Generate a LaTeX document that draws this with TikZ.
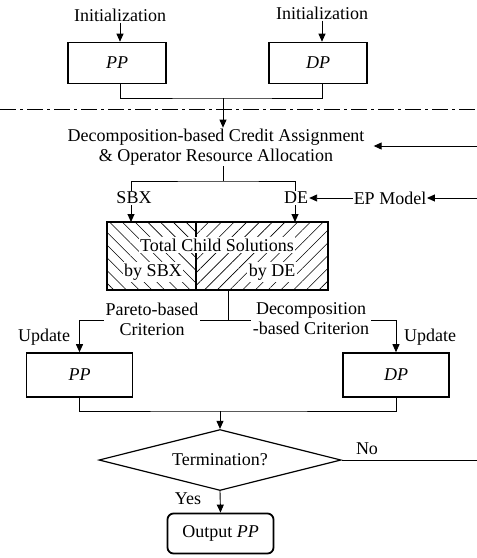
\documentclass[tikz,border=0pt]{standalone}
\usepackage{fontspec}
\setmainfont{Liberation Serif}
\usetikzlibrary{arrows.meta,shapes.geometric,patterns.meta}
\begin{document}
\begin{tikzpicture}[x=1pt,y=-1pt,
  every node/.style={font=\fontsize{18}{20}\selectfont, inner sep=1pt},
  thin line/.style={line width=0.9pt},
  arr/.style={thin line,-{Triangle[length=8pt,width=7pt]}},
  pbox/.style={draw,line width=1.6pt,minimum width=98pt,minimum height=41pt,inner sep=0pt},
  pbox2/.style={draw,line width=1.6pt,minimum width=106pt,minimum height=44pt,inner sep=0pt},
  lbl/.style={fill=white,inner sep=1.5pt}]
\useasboundingbox (0,0) rectangle (477,558);

% top part
\node (init1) at (120,15) {Initialization};
\node (init2) at (322,13) {Initialization};
\node[pbox] (pp1) at (117,63) {\itshape PP};
\node[pbox] (dp1) at (318,63) {\itshape DP};
\draw[arr] (init1.south -| 120,0) -- (pp1.north -| 120,0);
\draw[arr] (init2.south -| 322,0) -- (dp1.north -| 322,0);
\coordinate (j1) at (223,98);
\draw[thin line] (pp1.south -| 120,0) |- (j1) -| (dp1.south -| 322,0);

% dash-dot separator
\coordinate (sepL) at (0,109);
\coordinate (sepR) at (477,109);
\draw[line width=0.9pt, dash pattern=on 16pt off 4pt on 3pt off 4pt] (sepL) -- (sepR);

% credit assignment
\node[align=center] (dca) at (216,147) {Decomposition-based Credit Assignment\\\& Operator Resource Allocation};
\draw[arr] (j1) -- (dca.north -| j1);
\coordinate (r1) at (477,146);
\draw[arr] (r1) -- ([xshift=8pt]dca.east |- r1);

\node (sbx) at (134,198) {SBX};
\node (de) at (296,198) {DE};
\node[inner sep=0.5pt] (ep) at (390,198) {EP Model};
\coordinate (r2) at (477,198);
\coordinate (j2) at (223,181);
\draw[thin line] (dca.south -| j2) -- (j2);
\draw[thin line] (sbx.north -| 131,0) |- (j2) -| (de.north -| 295,0);
\draw[arr] (ep.west) -- (de.east);
\draw[arr] (r2) -- (ep.east);

% hatched box
\coordinate (hbA) at (107,222);
\coordinate (hbB) at (328,290);
\coordinate (hbM) at (196,222);
\coordinate (hbN) at (196,290);
\fill[pattern={Lines[angle=-45,distance=9pt,line width=0.6pt]}] (hbA) rectangle (hbN);
\fill[pattern={Lines[angle=45,distance=9pt,line width=0.6pt]}] (hbM) rectangle (hbB);
\node[lbl] (tcs) at (217,245) {Total Child Solutions};
\node[lbl] (bysbx) at (153,272) {by SBX};
\node[lbl] (byde) at (272,272) {by DE};
\draw[line width=2pt] (hbA) rectangle (hbB);
\draw[line width=1.8pt] (hbM) -- (tcs.north -| hbM);
\draw[line width=1.8pt] (tcs.south -| hbM) -- (hbN);
\draw[arr] (sbx.south -| 131,0) -- (hbA -| 131,0);
\draw[arr] (de.south -| 295,0) -- (hbA -| 295,0);

% updates
\node[pbox2] (pp2) at (79.5,375) {\itshape PP};
\node[pbox2] (dp2) at (396,375) {\itshape DP};
\coordinate (j3) at (228,320);
\draw[thin line] (hbB -| j3) -- (j3);
\draw[arr] (j3) -| (pp2.north);
\draw[arr] (j3) -| (dp2.north);
\node[lbl, align=center] (pareto) at (152,319) {Pareto-based\\Criterion};
\node[lbl, align=center] (decomp) at (311,319) {Decomposition\\-based Criterion};
\node (upd1) at (44,337) {Update};
\node (upd2) at (430,337) {Update};

% termination
\coordinate (j4) at (220,411);
\draw[thin line] (pp2.south) |- (j4) -| (dp2.south);
\node[draw, diamond, line width=1.2pt, minimum width=242pt, minimum height=61pt, aspect=4, inner sep=0pt] (term) at (220,460) {Termination?};
\draw[arr] (j4) -- (term.north);
\coordinate (r3) at (477,460);
\draw[thin line] (term.east) -- (r3);
\node (no) at (367,449) {No};
\node[draw, rounded corners=6pt, line width=1.8pt, minimum width=106pt, minimum height=40pt, inner sep=0pt] (out) at (220.5,533.5) {Output \textit{PP}};
\draw[arr] (term.south) -- (out.north);
\node (yes) at (188,499) {Yes};
\end{tikzpicture}
\end{document}
